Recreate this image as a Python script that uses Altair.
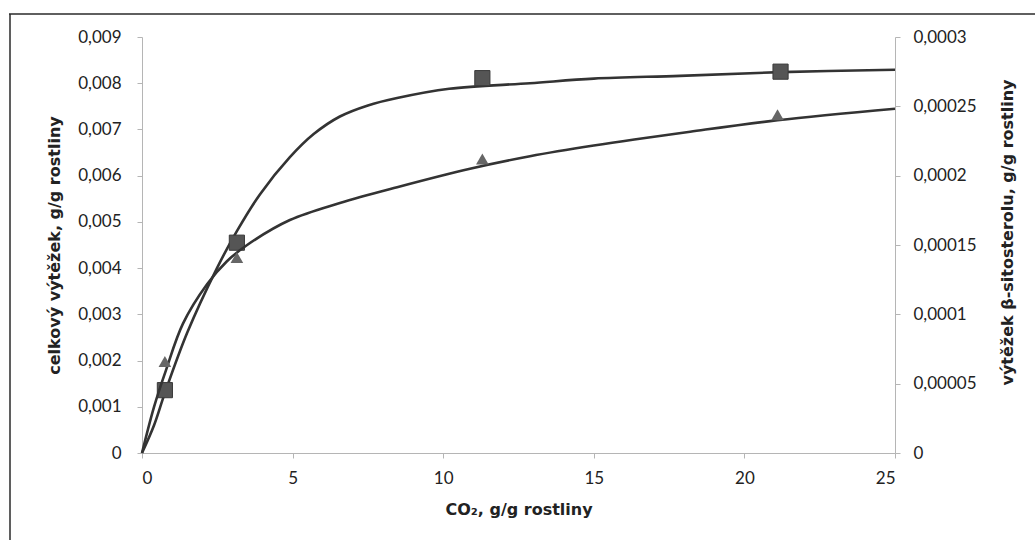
import altair as alt
import pandas as pd

# measured points (squares -> left axis, triangles -> right axis)
sq_x = [0.76, 3.15, 11.3, 21.2]
sq_y = [0.00136, 0.00455, 0.00811, 0.00825]
tri_x = [0.76, 3.15, 11.3, 21.1]
tri_y = [0.000066, 0.000141, 0.000212, 0.000244]

# fitted curves
cur_sq_x = [0, 0.4, 0.76, 1.5, 2.49, 3.15, 3.92, 4.91, 5.7, 6.57, 7.5, 8.47, 10.2, 12.88, 15, 17.86, 21.2, 25]
cur_sq_y = [0, 0.0006, 0.0013, 0.0026, 0.0040, 0.0048, 0.0056, 0.0064, 0.0069, 0.00728, 0.00752,
            0.00768, 0.00788, 0.0080, 0.0081, 0.00816, 0.00824, 0.00829]
cur_tri_x = [0, 0.4, 0.8, 1.36, 2.16, 2.82, 3.49, 4.91, 6.57, 8.47, 10.89, 12.88, 15, 18.2, 21.1, 25]
cur_tri_y = [0, 0.0000333, 0.00006, 0.0000933, 0.0001217, 0.0001383, 0.00015, 0.000168, 0.0001803,
             0.0001917, 0.000205, 0.0002140, 0.0002217, 0.0002317, 0.00024, 0.0002483]

x_ticks = [0, 5, 10, 15, 20, 25]
left_ticks = [0, 0.001, 0.002, 0.003, 0.004, 0.005, 0.006, 0.007, 0.008, 0.009]
right_ticks = [0, 0.00005, 0.0001, 0.00015, 0.0002, 0.00025, 0.0003]

W, H = 753, 416
LBL_FONT = "Lato"
LBL_SIZE = 17
TTL_FONT = "DejaVu Sans"
TTL_SIZE = 16
AX_COL = "#b5b5b5"
TXT_COL = "#222222"
comma = "replace(format(datum.value, '~g'), '.', ',')"

x_enc = alt.X("x:Q", scale=alt.Scale(domain=[0, 25], nice=False),
              axis=alt.Axis(values=x_ticks, title="CO₂, g/g rostliny", grid=False,
                            domainColor=AX_COL, tickColor=AX_COL, tickSize=5,
                            labelFont=LBL_FONT, labelFontSize=LBL_SIZE, labelColor=TXT_COL,
                            labelPadding=12, titleFont=TTL_FONT, titleFontWeight="bold",
                            titleFontSize=TTL_SIZE, titleColor=TXT_COL, titleY=56,
                            titleBaseline="middle"))

left_axis = alt.Axis(values=left_ticks, labelExpr=comma, grid=False, orient="left",
                     title="celkový výtěžek, g/g rostliny",
                     domainColor=AX_COL, tickColor=AX_COL, tickSize=5,
                     labelFont=LBL_FONT, labelFontSize=LBL_SIZE, labelColor=TXT_COL, labelPadding=16,
                     titleFont=TTL_FONT, titleFontWeight="bold", titleFontSize=TTL_SIZE,
                     titleColor=TXT_COL, titleX=-88, titleY=H / 2, titleAngle=-90,
                     titleAlign="center", titleBaseline="middle")
right_axis = alt.Axis(values=right_ticks, labelExpr=comma, grid=False, orient="right",
                      title="výtěžek β-sitosterolu, g/g rostliny",
                      domainColor=AX_COL, tickColor=AX_COL, tickSize=5,
                      labelFont=LBL_FONT, labelFontSize=LBL_SIZE, labelColor=TXT_COL, labelPadding=13,
                      titleFont=TTL_FONT, titleFontWeight="bold", titleFontSize=TTL_SIZE,
                      titleColor=TXT_COL, titleX=112, titleY=195, titleAngle=-90,
                      titleAlign="center", titleBaseline="middle")

ysc_l = alt.Scale(domain=[0, 0.009], nice=False)
ysc_r = alt.Scale(domain=[0, 0.0003], nice=False)

df_sq = pd.DataFrame({"x": sq_x, "y": sq_y})
df_tri = pd.DataFrame({"x": tri_x, "y": tri_y})
df_csq = pd.DataFrame({"x": cur_sq_x, "y": cur_sq_y})
df_ctri = pd.DataFrame({"x": cur_tri_x, "y": cur_tri_y})

left = alt.layer(
    alt.Chart(df_csq).mark_line(color="#333333", strokeWidth=2.6, interpolate="catmull-rom").encode(
        x=x_enc, y=alt.Y("y:Q", scale=ysc_l, axis=left_axis)),
    alt.Chart(df_sq).mark_point(shape="square", filled=True, size=230, color="#555555",
                                opacity=1, stroke="#3a3a3a", strokeWidth=1).encode(
        x=alt.X("x:Q"), y=alt.Y("y:Q", scale=ysc_l)),
)
right = alt.layer(
    alt.Chart(df_ctri).mark_line(color="#333333", strokeWidth=2.6, interpolate="catmull-rom").encode(
        x=alt.X("x:Q"), y=alt.Y("y:Q", scale=ysc_r, axis=right_axis)),
    alt.Chart(df_tri).mark_point(shape="triangle-up", filled=True, size=160, color="#666666",
                                 opacity=1).encode(
        x=alt.X("x:Q"), y=alt.Y("y:Q", scale=ysc_r)),
)

frame_df = pd.DataFrame({"k": [0]})
frame = alt.layer(
    alt.Chart(frame_df).mark_rule(color="#2a2a2a", strokeWidth=1.5).encode(
        x=alt.value(-133), x2=alt.value(893), y=alt.value(-23)),
    alt.Chart(frame_df).mark_rule(color="#2a2a2a", strokeWidth=1.5).encode(
        x=alt.value(-132), y=alt.value(-23), y2=alt.value(503)),
)

chart = alt.layer(left, right, frame).resolve_scale(y="independent").properties(
    width=W, height=H,
    padding={"left": 142, "top": 37, "right": 140, "bottom": 87},
    autosize=alt.AutoSizeParams(type="none"),
    background="white",
).configure_view(stroke="transparent")

chart.save("out.html", embed_options={"renderer": "svg", "actions": False})
